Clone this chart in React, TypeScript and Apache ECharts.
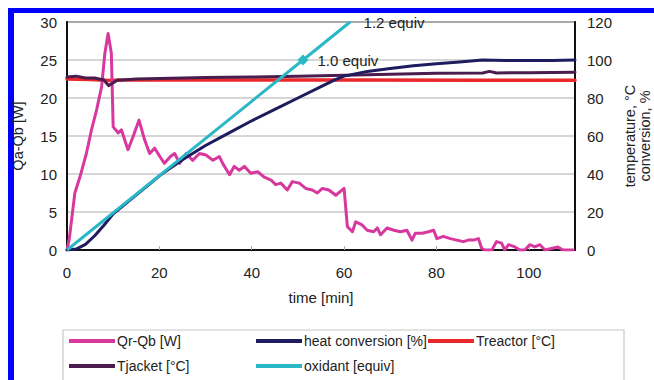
import React, { useEffect, useRef } from "react";
import * as echarts from "echarts";

// time [min] and Qr-Qb [W]
const qTime = [0, 0.5, 1.7, 2.8, 4.2, 5.3, 6.4, 7.5, 8.2, 8.9, 9.6, 10.0, 11.1, 11.8, 13.2, 14.3, 15.6, 16.8, 17.9, 19.0, 20.1, 21.1, 22.4, 23.3, 24.4, 25.8, 27.2, 28.7, 30.1, 31.6, 33.0, 33.7, 35.2, 36.2, 37.3, 38.4, 39.8, 41.3, 42.7, 44.2, 45.2, 46.3, 47.7, 48.8, 50.3, 51.7, 53.1, 54.2, 55.3, 56.7, 58.2, 60.0, 60.7, 61.8, 62.5, 63.9, 65.0, 66.4, 67.2, 67.9, 69.3, 70.8, 72.2, 73.6, 74.7, 75.4, 76.9, 78.3, 79.4, 80.1, 81.5, 83.0, 84.4, 85.8, 86.9, 88.0, 89.1, 89.8, 90.5, 92.0, 93.0, 94.1, 94.8, 95.6, 97.0, 98.0, 99.1, 100.2, 101.3, 102.4, 103.5, 104.9, 106.3, 107.4, 108.5, 109.6];
const qValue = [0, 1.5, 7.5, 9.6, 12.7, 15.8, 18.4, 21.5, 25.9, 28.5, 25.9, 16.2, 15.4, 15.8, 13.2, 14.9, 17.1, 14.5, 12.7, 13.4, 12.3, 11.4, 12.3, 12.7, 11.4, 12.7, 11.8, 12.7, 12.5, 11.8, 12.3, 11.4, 9.9, 11.0, 10.5, 11.0, 10.1, 10.3, 9.6, 9.2, 8.6, 8.8, 7.9, 9.0, 8.8, 8.1, 7.9, 7.5, 8.1, 7.9, 7.2, 8.1, 3.1, 2.4, 3.7, 3.3, 2.6, 2.4, 2.9, 2.0, 2.9, 2.6, 2.4, 2.6, 1.3, 2.2, 2.2, 2.4, 2.6, 1.5, 1.8, 1.5, 1.3, 1.1, 1.3, 1.3, 1.5, 0.2, 0, 0, 1.1, 0.9, 0, 0.7, 0.4, 0, 0, 0.7, 0.4, 0.7, 0, 0.2, 0.4, 0, 0, 0];

// heat conversion [%]
const convTime = [0, 2, 4, 6, 8, 10, 12, 15, 18, 20, 22, 25, 30, 35, 40, 45, 50, 55, 58, 60, 65, 70, 75, 80, 85, 90, 95, 100, 105, 110];
const convValue = [0, 0.5, 3, 7.5, 13, 19, 23, 29, 35, 39, 42.5, 47.5, 55, 61.5, 68, 74, 80, 86, 89.5, 91.5, 94, 95.5, 97, 98, 99, 100, 99.8, 99.8, 99.8, 100];

// Treactor [°C]
const reactorTime = [0, 5, 9, 12, 30, 60, 90, 110];
const reactorValue = [90, 89.8, 89.2, 89.5, 89.5, 89.5, 89.4, 89.4];

// Tjacket [°C]
const jacketTime = [0, 2, 4, 6, 8, 9, 10, 11, 12, 15, 20, 30, 40, 50, 60, 70, 80, 90, 91.5, 93, 100, 110];
const jacketValue = [91, 91.5, 90.5, 90.5, 89.5, 86.5, 88, 89.5, 89.5, 90, 90.3, 90.8, 91, 91.5, 92, 92.5, 93, 93.2, 94, 93.2, 93.3, 93.5];

// oxidant [equiv]
const oxTime = [0, 51.1, 61.3];
const oxEquiv = [0, 1.0, 1.2];
const oxLabels = ["", "1.0 equiv", "1.2 equiv"];

const xTicks = { min: 0, max: 110, interval: 20 };
const leftTicks = { min: 0, max: 30, interval: 5 };
const rightTicks = { min: 0, max: 120, interval: 20 };

const legendNames = ["Qr-Qb [W]", "heat conversion [%]", "Treactor [°C]", "Tjacket [°C]", "oxidant [equiv]"];

const FONT = "'Liberation Sans', Arial, sans-serif";
const C = {
  q: "#d8379e",
  conv: "#1e1c5e",
  reactor: "#e8282b",
  jacket: "#4b1d4f",
  ox: "#2bb8c6",
};

const zip = (a: number[], b: number[]) => a.map((t, i) => [t, b[i]]);

export default function App() {
  const ref = useRef<HTMLDivElement>(null);
  useEffect(() => {
    if (!ref.current) return;
    const chart = echarts.init(ref.current, undefined, { renderer: "svg" });
    const lineBase = {
      type: "line" as const,
      showSymbol: false,
      symbol: "none",
      lineStyle: { width: 3, join: "round" as const, cap: "round" as const },
    };
    const oxData = oxTime.map((t, i) => {
      const item: any = { value: [t, oxEquiv[i] * 100] };
      if (i === 1) {
        item.symbol = "diamond";
        item.symbolSize = 11;
        item.label = { show: true, formatter: oxLabels[i], position: "right", distance: 9 };
      } else if (i === 2) {
        item.symbol = "circle";
        item.symbolSize = 1;
        item.label = { show: true, formatter: oxLabels[i], position: "right", distance: 13 };
      } else {
        item.symbol = "none";
      }
      return item;
    });
    const legendPos = [
      [69, 334],
      [256, 334],
      [428, 334],
      [69, 359],
      [256, 359],
    ];
    const legends = legendNames.map((n, i) => ({
      left: legendPos[i][0],
      top: legendPos[i][1],
      icon: "rect",
      itemWidth: 46,
      itemHeight: 4,
      padding: 0,
      data: [n],
      textStyle: { fontSize: 14, color: "#222", fontFamily: FONT, padding: [0, 0, 0, -3] },
    }));
    chart.setOption({
      animation: false,
      textStyle: { fontFamily: FONT },
      grid: {
        left: 67,
        right: 79,
        top: 22,
        bottom: 130,
        containLabel: false,
        outerBoundsMode: "none",
        show: true,
        borderColor: "#111",
        borderWidth: 1.5,
      },
      graphic: [
        { type: "rect", shape: { x: 8, y: 8, width: 646, height: 5 }, style: { fill: "#0000ff" }, silent: true },
        { type: "rect", shape: { x: 8, y: 8, width: 6, height: 372 }, style: { fill: "#0000ff" }, silent: true },
        {
          type: "rect",
          shape: { x: 63, y: 330, width: 561, height: 70 },
          style: { fill: "#fff", stroke: "#c8c8c8", lineWidth: 1.2 },
          silent: true,
          z: -1,
        },
      ],
      legend: legends,
      xAxis: {
        type: "value",
        ...xTicks,
        name: "time [min]",
        nameLocation: "middle",
        nameGap: 40,
        nameTextStyle: { fontSize: 15, color: "#222", fontFamily: FONT },
        axisLine: { lineStyle: { color: "#111", width: 2 } },
        axisTick: { inside: true, length: 4, lineStyle: { color: "#aaa" } },
        axisLabel: { fontSize: 15, color: "#222", margin: 15, showMaxLabel: false, fontFamily: FONT },
        splitLine: { show: false },
      },
      yAxis: [
        {
          type: "value",
          ...leftTicks,
          position: "left",
          name: "Qa-Qb [W]",
          nameLocation: "middle",
          nameGap: 42,
          nameRotate: 90,
          nameTextStyle: { fontSize: 14.5, color: "#222", fontFamily: FONT },
          axisLine: { show: true, lineStyle: { color: "#111", width: 2 } },
          axisTick: { show: false },
          axisLabel: { fontSize: 15, color: "#222", margin: 10, fontFamily: FONT },
          splitLine: { show: true, lineStyle: { color: "#c8c8c8", width: 1.5 } },
        },
        {
          type: "value",
          ...rightTicks,
          position: "right",
          name: "temperature, °C\nconversion, %",
          nameLocation: "middle",
          nameGap: 46,
          nameRotate: 90,
          nameTextStyle: { fontSize: 14.5, color: "#222", lineHeight: 15, fontFamily: FONT },
          axisLine: { show: true, lineStyle: { color: "#111", width: 2 } },
          axisTick: { show: false },
          axisLabel: { fontSize: 15, color: "#222", margin: 12, fontFamily: FONT },
          splitLine: { show: false },
        },
      ],
      series: [
        {
          ...lineBase,
          name: "Treactor [°C]",
          yAxisIndex: 1,
          data: zip(reactorTime, reactorValue),
          color: C.reactor,
          lineStyle: { ...lineBase.lineStyle, color: C.reactor, width: 3.5 },
          z: 2,
        },
        {
          ...lineBase,
          name: "Qr-Qb [W]",
          yAxisIndex: 0,
          data: zip(qTime, qValue),
          color: C.q,
          lineStyle: { ...lineBase.lineStyle, color: C.q },
          z: 3,
        },
        {
          ...lineBase,
          name: "Tjacket [°C]",
          yAxisIndex: 1,
          data: zip(jacketTime, jacketValue),
          color: C.jacket,
          lineStyle: { ...lineBase.lineStyle, color: C.jacket },
          z: 4,
        },
        {
          ...lineBase,
          name: "heat conversion [%]",
          yAxisIndex: 1,
          data: zip(convTime, convValue),
          color: C.conv,
          lineStyle: { ...lineBase.lineStyle, color: C.conv },
          z: 5,
        },
        {
          type: "line",
          name: "oxidant [equiv]",
          yAxisIndex: 1,
          showSymbol: true,
          symbol: "none",
          data: oxData,
          color: C.ox,
          itemStyle: { color: C.ox },
          lineStyle: { width: 3, color: C.ox },
          label: { fontSize: 15, color: "#222", fontFamily: FONT },
          z: 6,
        },
      ],
    });
    return () => chart.dispose();
  }, []);
  return (
    <div
      ref={ref}
      style={{ position: "fixed", left: 0, top: 0, width: 654, height: 380, background: "#fff" }}
    />
  );
}
